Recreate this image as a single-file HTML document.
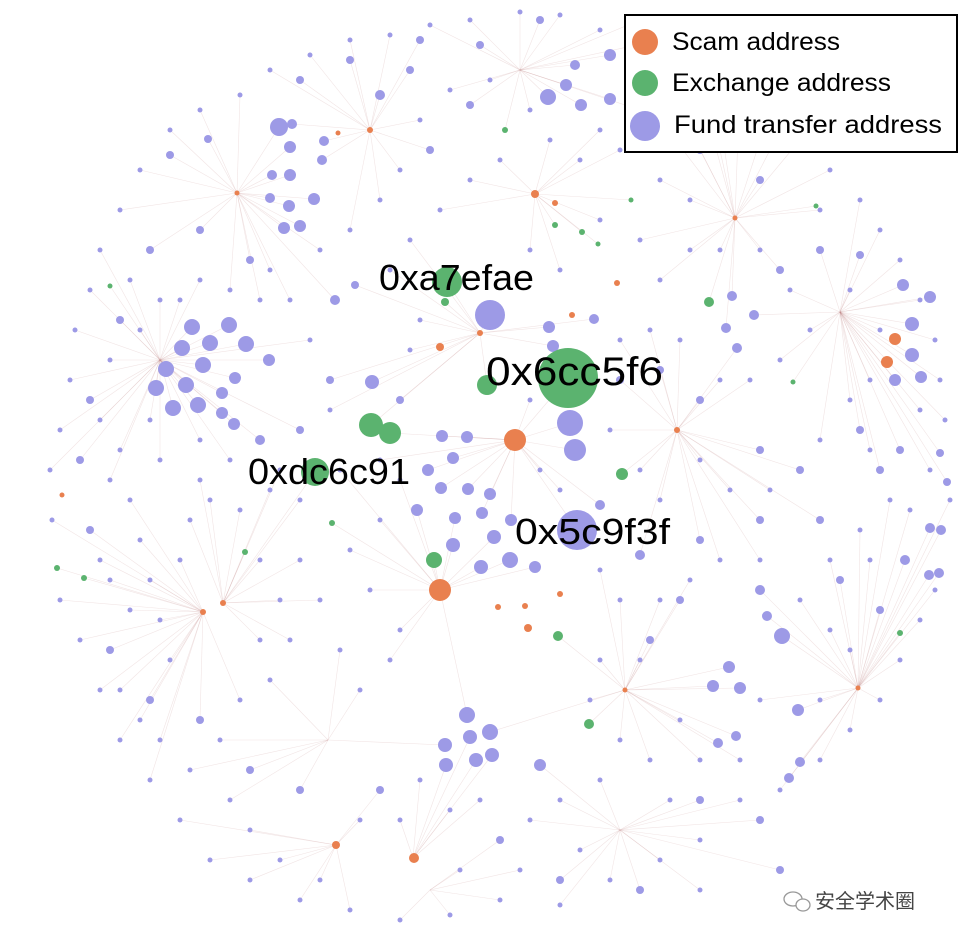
<!DOCTYPE html>
<html><head><meta charset="utf-8"><style>
html,body{margin:0;padding:0;background:#fff;}
svg{display:block;}
.lbl{font-family:"Liberation Sans",sans-serif;fill:#000;}
</style></head><body>
<svg id="g" width="966" height="943" viewBox="0 0 966 943" xmlns="http://www.w3.org/2000/svg">
<g id="edges"></g>
<g id="nodes"></g>
<text class="lbl" x="379" y="290" font-size="36" textLength="155" lengthAdjust="spacingAndGlyphs">0xa7efae</text>
<text class="lbl" x="486" y="385" font-size="40" textLength="177" lengthAdjust="spacingAndGlyphs">0x6cc5f6</text>
<text class="lbl" x="248" y="484" font-size="36" textLength="162" lengthAdjust="spacingAndGlyphs">0xdc6c91</text>
<text class="lbl" x="515" y="544" font-size="36" textLength="155" lengthAdjust="spacingAndGlyphs">0x5c9f3f</text>
<g>
<rect x="625" y="15" width="332" height="137" fill="#fff" stroke="#000" stroke-width="2"/>
<circle cx="645" cy="42" r="13" fill="#e9804f"/>
<text class="lbl" x="672" y="50" font-size="25" textLength="168" lengthAdjust="spacingAndGlyphs">Scam address</text>
<circle cx="645" cy="83" r="13" fill="#5bb36f"/>
<text class="lbl" x="672" y="91" font-size="25" textLength="219" lengthAdjust="spacingAndGlyphs">Exchange address</text>
<circle cx="645" cy="126" r="15" fill="#9d9ae6"/>
<text class="lbl" x="674" y="133" font-size="25" textLength="268" lengthAdjust="spacingAndGlyphs">Fund transfer address</text>
</g>
<g>
<ellipse cx="793" cy="899" rx="9" ry="7" fill="none" stroke="#999" stroke-width="1.3"/>
<ellipse cx="803" cy="905" rx="7" ry="6" fill="#fff" stroke="#999" stroke-width="1.3"/>
<text x="815" y="908" font-size="20" fill="#444" font-family="'Liberation Sans','Noto Sans CJK SC',sans-serif">安全学术圈</text>
</g>
</svg>
<script>
const hubs=[[203,612],[223,603],[677,430],[735,218],[535,194],[370,130],[858,688],[336,845],[413,858],[840,312],[625,690],[515,440],[440,590],[480,333],[237,193],[430,890],[620,830],[160,360],[520,70],[328,740]];
const scam=[[515,440,11],[440,590,11],[887,362,6],[895,339,6],[414,858,5],[336,845,4],[440,347,4],[528,628,4],[535,194,4],[203,612,3],[223,603,3],[677,430,3],[735,218,2.5],[370,130,3],[555,203,3],[617,283,3],[498,607,3],[525,606,3],[560,594,3],[62,495,2.5],[858,688,2.5],[237,193,2.5],[338,133,2.5],[480,333,3],[625,690,2.5],[572,315,3]];
const exch=[[568,378,30],[447,282,15],[315,472,14],[371,425,12],[390,433,11],[487,385,10],[434,560,8],[622,474,6],[558,636,5],[589,724,5],[709,302,5],[445,302,4],[245,552,3],[332,523,3],[57,568,3],[84,578,3],[505,130,3],[555,225,3],[582,232,3],[598,244,2.5],[631,200,2.5],[793,382,2.5],[900,633,3],[816,206,2.5],[110,286,2.5]];
const fundBig=[[490,315,15],[577,530,20],[570,423,13],[575,450,11],[279,127,9],[548,97,8],[782,636,8],[467,715,8],[490,732,8],[470,737,7],[445,745,7],[446,765,7],[476,760,7],[492,755,7],[540,765,6],[192,327,8],[229,325,8],[182,348,8],[210,343,8],[246,344,8],[166,369,8],[186,385,8],[203,365,8],[156,388,8],[198,405,8],[173,408,8],[222,393,6],[235,378,6],[222,413,6],[234,424,6],[269,360,6],[372,382,7],[442,436,6],[467,437,6],[428,470,6],[453,458,6],[417,510,6],[441,488,6],[468,489,6],[455,518,6],[482,513,6],[453,545,7],[494,537,7],[510,560,8],[481,567,7],[535,567,6],[511,520,6],[490,494,6],[549,327,6],[553,346,6],[594,319,5],[713,686,6],[740,688,6],[729,667,6],[798,710,6],[930,297,6],[912,324,7],[912,355,7],[921,377,6],[895,380,6],[903,285,6],[566,85,6],[581,105,6],[610,99,6],[610,55,6],[575,65,5],[290,147,6],[314,199,6],[300,226,6],[284,228,6],[289,206,6],[270,198,5],[272,175,5],[290,175,6],[322,160,5],[292,124,5],[324,141,5],[726,328,5],[737,348,5],[754,315,5],[732,296,5],[941,530,5],[930,528,5],[939,573,5],[760,590,5],[929,575,5],[767,616,5],[800,762,5],[789,778,5],[718,743,5],[736,736,5],[208,139,4],[170,155,4],[380,95,5],[410,70,4],[430,150,4],[470,105,4],[355,285,4],[335,300,5],[260,440,5],[300,430,4],[600,505,5],[640,555,5],[680,600,4],[860,430,4],[880,470,4],[905,560,5],[880,610,4],[840,580,4],[820,520,4],[760,520,4],[700,540,4],[650,640,4],[700,800,4],[760,820,4],[780,870,4],[640,890,4],[560,880,4],[500,840,4],[380,790,4],[300,790,4],[250,770,4],[200,720,4],[150,700,4],[110,650,4],[90,530,4],[80,460,4],[90,400,4],[120,320,4],[150,250,4],[200,230,4],[250,260,4],[330,380,4],[400,400,4],[620,380,4],[660,370,4],[700,400,4],[760,450,4],[800,470,4],[900,450,4],[947,482,4],[940,453,4],[860,255,4],[820,250,4],[780,270,4],[760,180,4],[700,150,4],[660,120,4],[700,90,4],[640,20,4],[540,20,4],[480,45,4],[420,40,4],[350,60,4],[300,80,4]];
const small=[[60,430],[70,380],[75,330],[50,470],[52,520],[60,600],[80,640],[100,690],[120,740],[150,780],[180,820],[210,860],[250,880],[300,900],[350,910],[400,920],[450,915],[500,900],[560,905],[610,880],[660,860],[700,840],[740,800],[780,790],[820,760],[850,730],[880,700],[900,660],[920,620],[935,590],[950,500],[945,420],[940,380],[935,340],[920,300],[900,260],[880,230],[860,200],[830,170],[800,140],[770,110],[740,80],[700,60],[660,40],[600,30],[560,15],[520,12],[470,20],[430,25],[390,35],[350,40],[310,55],[270,70],[240,95],[200,110],[170,130],[140,170],[120,210],[100,250],[90,290],[130,280],[160,300],[140,330],[110,360],[100,420],[120,450],[130,500],[140,540],[150,580],[160,620],[170,660],[130,610],[110,580],[100,560],[180,560],[190,520],[210,500],[240,510],[260,560],[280,600],[290,640],[270,680],[240,700],[220,740],[190,770],[160,740],[140,720],[120,690],[260,640],[300,560],[320,600],[340,650],[360,690],[390,660],[400,630],[370,590],[350,550],[380,520],[400,480],[380,460],[340,470],[300,500],[280,470],[330,410],[310,340],[290,300],[270,270],[320,250],[350,230],[380,200],[400,170],[420,120],[450,90],[490,80],[500,160],[470,180],[440,210],[410,240],[390,270],[420,320],[410,350],[530,250],[560,270],[600,220],[640,240],[660,280],[690,250],[720,250],[760,250],[790,290],[810,330],[780,360],[750,380],[720,380],[700,460],[730,490],[770,490],[820,440],[850,400],[870,450],[890,500],[860,530],[830,560],[800,600],[760,560],[720,560],[690,580],[660,600],[640,660],[600,660],[590,700],[620,740],[650,760],[680,720],[700,760],[740,760],[760,700],[820,700],[850,650],[830,630],[600,780],[560,800],[530,820],[480,800],[450,810],[420,780],[400,820],[360,820],[320,880],[280,860],[250,830],[230,800],[460,870],[520,870],[580,850],[670,800],[700,890],[620,600],[600,570],[560,490],[610,430],[640,470],[660,500],[540,470],[530,400],[620,340],[650,330],[680,340],[690,200],[660,180],[620,150],[580,160],[550,140],[530,110],[600,130],[640,110],[680,110],[720,120],[770,150],[820,210],[850,290],[880,330],[870,380],[920,410],[930,470],[910,510],[870,560],[200,280],[230,290],[260,300],[180,300],[150,420],[160,460],[200,440],[230,460],[270,490],[200,480],[110,480]];
const E=document.getElementById('edges'),N=document.getElementById('nodes');
const NS='http://www.w3.org/2000/svg';
function nearest(p){let b=hubs[0],d=1e9;for(const h of hubs){const dd=(h[0]-p[0])**2+(h[1]-p[1])**2;if(dd<d){d=dd;b=h;}}return b;}
function edge(a,b){const l=document.createElementNS(NS,'line');l.setAttribute('x1',a[0]);l.setAttribute('y1',a[1]);l.setAttribute('x2',b[0]);l.setAttribute('y2',b[1]);l.setAttribute('stroke','rgba(190,130,130,0.22)');l.setAttribute('stroke-width','0.6');


E.appendChild(l);}
function node(p,r,c,name){const el=document.createElementNS(NS,'circle');el.setAttribute('cx',p[0]);el.setAttribute('cy',p[1]);el.setAttribute('r',r);el.setAttribute('fill',c);


N.appendChild(el);}
for(const p of small){edge(p,nearest(p));}
for(const p of fundBig){edge(p,nearest(p));}
for(const p of exch){edge(p,nearest(p));}
for(const p of small){node(p,2.5,'#9d9ae6','fund-node-small');}
for(const p of fundBig){node(p,p[2],'#9d9ae6','fund-node');}
for(const p of exch){node(p,p[2],'#5bb36f','exchange-node');}
for(const p of scam){node(p,p[2],'#e9804f','scam-node');}
</script>
</body></html>
